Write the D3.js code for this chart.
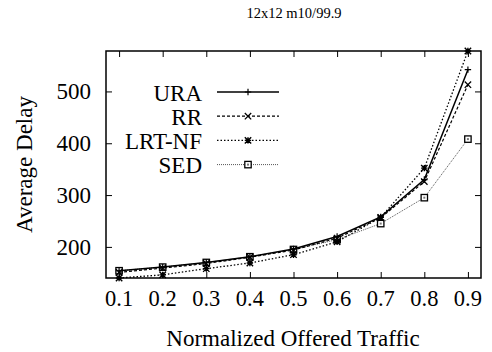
<!DOCTYPE html>
<html>
<head>
<meta charset="utf-8">
<script src="https://cdn.jsdelivr.net/npm/d3@7"></script>
<style>
  body { margin: 0; background: #fff; }
  svg text { font-family: "Liberation Serif", "DejaVu Serif", serif; fill: #000; }
</style>
</head>
<body>
<div id="chart"></div>
<script>
const traffic = [0.1, 0.2, 0.3, 0.4, 0.5, 0.6, 0.7, 0.8, 0.9]
const ura = [154, 161, 170, 181, 196, 220, 258, 330, 542]
const rr = [151, 159, 168, 180, 194, 217, 256, 326, 513]
const lrtnf = [140, 146, 158, 169, 185, 210, 257, 352, 578]
const sed = [154, 161, 170, 181, 195, 214, 245, 295, 408]
const xTicks = [0.1, 0.2, 0.3, 0.4, 0.5, 0.6, 0.7, 0.8, 0.9]
const yTicks = [200, 300, 400, 500]

const series = [
  { name: 'URA', values: ura, dash: null, color: '#000', width: 1.5, mark: 'plus' },
  { name: 'RR', values: rr, dash: '3,2', color: '#000', width: 1.2, mark: 'cross' },
  { name: 'LRT-NF', values: lrtnf, dash: '1.5,2', color: '#000', width: 1.3, mark: 'star' },
  { name: 'SED', values: sed, dash: '1,1', color: '#555', width: 1, mark: 'box' }
]

const W = 492, H = 352
const margin = { top: 51, left: 106, right: 11, bottom: 74 }
const width = W - margin.left - margin.right
const height = H - margin.top - margin.bottom
const FS = 23

const frame = d3.select('#chart').append('svg')
  .attr('width', W).attr('height', H)

const svg = frame.append('g')
  .attr('transform', `translate(${margin.left},${margin.top})`)

const x = d3.scaleLinear().domain([0.07, 0.93]).range([0, width])
const y = d3.scaleLinear().domain([140, 578]).range([height, 0])

// ticks, inside and mirrored like gnuplot
const TL = 6
svg.append('g').call(d3.axisBottom(x).tickValues(xTicks).tickSize(-TL).tickFormat(''))
  .attr('transform', `translate(0,${height})`)
svg.append('g').call(d3.axisTop(x).tickValues(xTicks).tickSize(-TL).tickFormat(''))
svg.append('g').call(d3.axisLeft(y).tickValues(yTicks).tickSize(-TL).tickFormat(''))
svg.append('g').call(d3.axisRight(y).tickValues(yTicks).tickSize(-TL).tickFormat(''))
  .attr('transform', `translate(${width},0)`)
svg.selectAll('.domain').remove()
svg.selectAll('.tick line').attr('stroke', '#000').attr('stroke-width', 1)

svg.append('rect')
  .attr('width', width).attr('height', height)
  .attr('fill', 'none').attr('stroke', '#000').attr('stroke-width', 1.5)

// tick labels
svg.selectAll('.xl').data(xTicks).enter().append('text')
  .attr('x', d => x(d)).attr('y', height + 28)
  .attr('text-anchor', 'middle').attr('font-size', 22.5)
  .text(d => d.toFixed(1))
svg.selectAll('.yl').data(yTicks).enter().append('text')
  .attr('x', -15).attr('y', d => y(d) + 8)
  .attr('text-anchor', 'end').attr('font-size', FS)
  .text(d => d)

// titles
frame.append('text').attr('x', 294).attr('y', 18)
  .attr('text-anchor', 'middle').attr('font-size', 14.5).text('12x12 m10/99.9')
frame.append('text').attr('x', 293).attr('y', 346)
  .attr('text-anchor', 'middle').attr('font-size', FS).text('Normalized Offered Traffic')
frame.append('text')
  .attr('transform', `translate(32,${margin.top + height / 2}) rotate(-90)`)
  .attr('text-anchor', 'middle').attr('font-size', FS).text('Average Delay')

function drawMark(g, type, cx, cy, color) {
  const s = 3.2
  if (type === 'plus') {
    g.append('path').attr('d', `M${cx - s},${cy}H${cx + s}M${cx},${cy - s}V${cy + s}`)
      .attr('stroke', color).attr('stroke-width', 1.2)
  } else if (type === 'cross') {
    g.append('path').attr('d', `M${cx - s},${cy - s}L${cx + s},${cy + s}M${cx - s},${cy + s}L${cx + s},${cy - s}`)
      .attr('stroke', color).attr('stroke-width', 1.3)
  } else if (type === 'star') {
    g.append('path').attr('d', `M${cx - s},${cy}H${cx + s}M${cx},${cy - s}V${cy + s}M${cx - s},${cy - s}L${cx + s},${cy + s}M${cx - s},${cy + s}L${cx + s},${cy - s}`)
      .attr('stroke', color).attr('stroke-width', 1.4)
  } else {
    g.append('rect').attr('x', cx - s).attr('y', cy - s).attr('width', 2 * s).attr('height', 2 * s)
      .attr('fill', '#fff').attr('stroke', '#000').attr('stroke-width', 1.3)
    g.append('rect').attr('x', cx - 1).attr('y', cy - 1).attr('width', 2).attr('height', 2)
      .attr('fill', '#777')
  }
}

const line = d3.line().x((d, i) => x(traffic[i])).y(d => y(d))

const plot = svg.append('g')
series.slice().reverse().forEach(s => {
  plot.append('path').datum(s.values)
    .attr('d', line)
    .attr('fill', 'none')
    .attr('stroke', s.color)
    .attr('stroke-width', s.width)
    .attr('stroke-dasharray', s.dash)
  const mg = plot.append('g')
  s.values.forEach((v, i) => drawMark(mg, s.mark, x(traffic[i]), y(v), '#000'))
})

// legend
const legend = frame.append('g')
series.forEach((s, i) => {
  const ly = 92 + i * 24.2
  legend.append('text').attr('x', 202).attr('y', ly + 8.5)
    .attr('text-anchor', 'end').attr('font-size', FS).text(s.name)
  legend.append('line')
    .attr('x1', 217).attr('x2', 279).attr('y1', ly).attr('y2', ly)
    .attr('stroke', s.color).attr('stroke-width', s.width)
    .attr('stroke-dasharray', s.dash)
  drawMark(legend, s.mark, 248, ly, '#000')
})
</script>
</body>
</html>
